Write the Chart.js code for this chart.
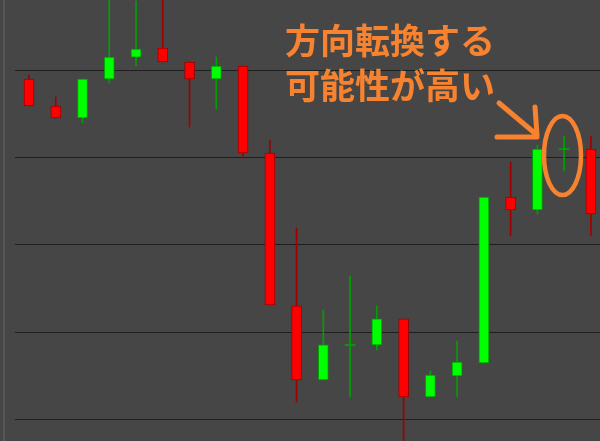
<!DOCTYPE html>
<html>
<head>
<meta charset="utf-8">
<style>
html,body{margin:0;padding:0;background:#464646;}
#wrap{position:relative;width:600px;height:441px;}
</style>
<script src="https://cdn.jsdelivr.net/npm/chart.js@4.4.1/dist/chart.umd.min.js"></script>
</head>
<body>
<div id="wrap"><canvas id="c" width="600" height="441"></canvas></div>
<script>
// candle index (x position), open, high, low, close
const idx   = [1,2,3,4,5,6,7,8,9,10,11,12,13,14,15,16,17,18,19,20,21,22];
const opens = [139.00,135.91,134.53,139.00,141.52,142.56,140.95,139.00,140.49,130.52,112.99,104.50,108.52,108.52,111.50,102.56,104.96,106.45,125.48,123.99,130.98,130.98];
const highs = [139.46,136.94,139.00,150.00,147.94,150.00,140.95,141.52,140.49,132.01,121.93,112.53,116.42,112.99,111.50,105.54,108.97,125.48,129.49,131.44,132.47,132.47];
const lows  = [135.91,134.53,133.96,138.54,140.49,140.95,133.50,135.56,129.95,113.10,101.98,104.50,102.56,107.94,96.00,102.56,102.56,106.45,121.01,123.53,128.46,121.01];
const closes= [135.91,134.53,139.00,141.52,142.44,140.95,139.00,140.49,130.52,113.10,104.50,108.52,108.52,111.50,102.56,105.08,106.57,125.48,123.99,130.98,130.98,123.53];
const gridTicks = [100,110,120,130,140];
const noteLines = ['方向転換する','可能性が高い'];

const up = opens.map((o,i)=>closes[i]>=o);
const wickData = idx.map((x,i)=>({x:x,y:[lows[i],highs[i]]}));
const bodyData = idx.map((x,i)=>{
  const lo=Math.min(opens[i],closes[i]), hi=Math.max(opens[i],closes[i]);
  if (hi-lo<0.05) return {x:x,y:[lo-0.06,lo+0.06]};
  return {x:x,y:[lo,hi]};
});
const isDoji = idx.map((x,i)=>Math.abs(opens[i]-closes[i])<0.05);

const annot = {
  id:'annot',
  afterDraw(chart){
    const ctx = chart.ctx;
    ctx.save();
    const orange = '#f7822f';
    ctx.fillStyle = orange;
    ctx.font = 'bold 35px "Noto Sans CJK JP"';
    ctx.textBaseline = 'middle';
    ctx.textAlign = 'left';
    ctx.fillText(noteLines[0], 285, 41);
    ctx.fillText(noteLines[1], 285, 86);
    ctx.strokeStyle = orange;
    ctx.lineWidth = 5;
    ctx.lineCap = 'round';
    ctx.lineJoin = 'round';
    ctx.beginPath();
    ctx.moveTo(499,103); ctx.lineTo(537,135);
    ctx.moveTo(497,137); ctx.lineTo(537,137);
    ctx.moveTo(535,107); ctx.lineTo(537,135);
    ctx.stroke();
    ctx.lineWidth = 4.5;
    ctx.beginPath();
    ctx.ellipse(562.5,155.5,18.5,39.5,0,0,Math.PI*2);
    ctx.stroke();
    ctx.restore();
  }
};

const bg = {
  id:'bg',
  beforeDraw(chart){
    const ctx = chart.ctx;
    ctx.save();
    ctx.fillStyle = '#464646';
    ctx.fillRect(0,0,chart.width,chart.height);
    ctx.fillStyle = '#555555';
    ctx.fillRect(3,0,2,chart.height);
    ctx.restore();
  }
};

new Chart(document.getElementById('c'), {
  type:'bar',
  data:{
    datasets:[
      {
        data: wickData,
        grouped:false,
        barThickness:1,
        backgroundColor: up.map(u=>u?'#00a000':'#a00000'),
        borderWidth:0,
        order:2
      },
      {
        data: bodyData,
        grouped:false,
        barThickness: isDoji.map(d=>d?9:10),
        backgroundColor: idx.map((x,i)=>isDoji[i]?'#00a000':(up[i]?'#00ff00':'#ff0000')),
        borderColor: up.map(u=>u?'#00a000':'#a00000'),
        borderWidth: isDoji.map(d=>d?0:1),
        borderSkipped:false,
        order:1
      }
    ]
  },
  options:{
    responsive:false,
    animation:false,
    maintainAspectRatio:false,
    layout:{padding:{left:15,right:0,top:0,bottom:0}},
    plugins:{legend:{display:false},tooltip:{enabled:false}},
    scales:{
      x:{type:'linear',min:0.477,max:22.34,offset:false,display:false},
      y:{
        type:'linear',min:97.51,max:148.06,
        afterFit(s){s.width=0;},
        afterBuildTicks(s){s.ticks = gridTicks.map(v=>({value:v}));},
        ticks:{display:false},
        border:{display:false},
        grid:{color:'#1e1e1e',lineWidth:1,drawTicks:false}
      }
    }
  },
  plugins:[bg,annot]
});
</script>
</body>
</html>
